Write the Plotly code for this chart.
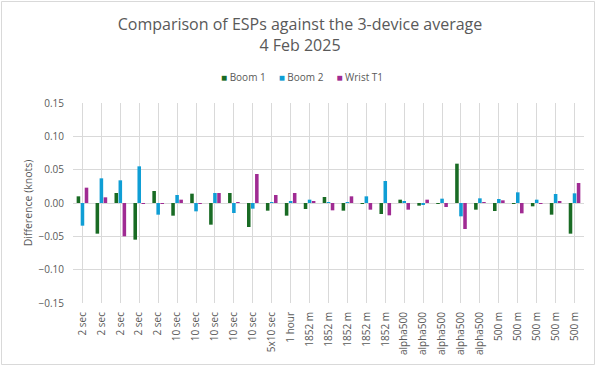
import plotly.graph_objects as go

categories = ["2 sec"] * 5 + ["10 sec"] * 5 + ["5x10 sec", "1 hour"] + ["1852 m"] * 5 + ["alpha500"] * 5 + ["500 m"] * 5
boom1 = [0.010, -0.046, 0.015, -0.055, 0.018, -0.019, 0.014, -0.0325, 0.015, -0.036,
         -0.0115, -0.019, -0.009, 0.009, -0.0115, -0.001, -0.0165,
         0.005, -0.004, -0.0005, 0.059, -0.010, -0.012, -0.001, -0.005, -0.0175, -0.046]
boom2 = [-0.034, 0.037, 0.034, 0.055, -0.0175, 0.012, -0.0125, 0.015, -0.015, -0.0085,
         0.0005, 0.0025, 0.005, 0.0005, 0.0005, 0.010, 0.033,
         0.0025, -0.0025, 0.0065, -0.020, 0.007, 0.006, 0.016, 0.005, 0.0135, 0.0145]
wrist = [0.023, 0.0085, -0.050, -0.001, -0.001, 0.005, -0.0015, 0.015, 0.0005, 0.0435,
         0.012, 0.015, 0.002, -0.011, 0.010, -0.010, -0.0185,
         -0.010, 0.005, -0.006, -0.039, 0.0005, 0.004, -0.0155, -0.001, 0.0025, 0.030]
y_ticks = [-0.15, -0.10, -0.05, 0.00, 0.05, 0.10, 0.15]
series_names = ["Boom 1", "Boom 2", "Wrist T1"]
series_colors = ["#196B24", "#0F9ED5", "#A02B93"]

idx = list(range(len(categories)))

fig = go.Figure()
for name, vals, col in zip(series_names, [boom1, boom2, wrist], series_colors):
    fig.add_trace(go.Bar(x=idx, y=vals, name=name, marker_color=col, marker_line_width=0,
                         showlegend=False))

FONT = "Open Sans"
GRAY = "#595959"
W, H = 600, 366
ml, mr, mt, mb = 73, 16, 103, 63
pw, ph = W - ml - mr, H - mt - mb

fig.update_layout(
    width=W, height=H,
    margin=dict(l=ml, r=mr, t=mt, b=mb, autoexpand=False),
    paper_bgcolor="white", plot_bgcolor="white",
    barmode="group", bargap=0.36, bargroupgap=0.12,
    font=dict(family=FONT, color=GRAY, size=10),
    title=dict(text="Comparison of ESPs against the 3-device average<br>4 Feb 2025",
               x=0.5, xanchor="center", y=1 - 30 / H, yanchor="top",
               font=dict(family=FONT, size=16, color=GRAY)),
    showlegend=False,
)

legend_text = "&nbsp;&nbsp;&nbsp;&nbsp;&nbsp;".join(
    f'<span style="color:{c}">■</span> {n}' for n, c in zip(series_names, series_colors))
fig.add_annotation(text=legend_text, xref="paper", yref="paper",
                   x=(302 - ml) / pw, y=1 + (mt - 77) / ph, xanchor="center", yanchor="middle",
                   showarrow=False, font=dict(size=10, color=GRAY, family=FONT))

fig.update_xaxes(
    tickmode="array", tickvals=idx, ticktext=categories, tickangle=-90,
    tickson="boundaries", showgrid=True, gridcolor="#D9D9D9", gridwidth=1,
    showline=False, ticks="", range=[-0.5, len(categories) - 0.5],
    tickfont=dict(size=10, color=GRAY), zeroline=False, automargin=False,
    ticklabelstandoff=6,
)
fig.update_yaxes(
    range=[-0.15, 0.15], tickvals=y_ticks, tickformat=".2f",
    showgrid=True, gridcolor="#D9D9D9", gridwidth=1, zeroline=True,
    zerolinecolor="#D9D9D9", zerolinewidth=1, showline=False, automargin=False,
    title=dict(text="Difference (knots)", font=dict(size=10.5, color=GRAY), standoff=3),
    tickfont=dict(size=10, color=GRAY), ticklabelstandoff=8,
)
fig.add_shape(type="rect", xref="paper", yref="paper",
              x0=(1.5 - ml) / pw, x1=(594.5 - ml) / pw,
              y0=(H - mb - 364.5) / ph, y1=(H - mb - 1.5) / ph,
              line=dict(color="#D9D9D9", width=1), fillcolor="rgba(0,0,0,0)", layer="below")

fig.write_html("out.html", config={"displayModeBar": False},
               post_script="document.body.style.margin='0';")
